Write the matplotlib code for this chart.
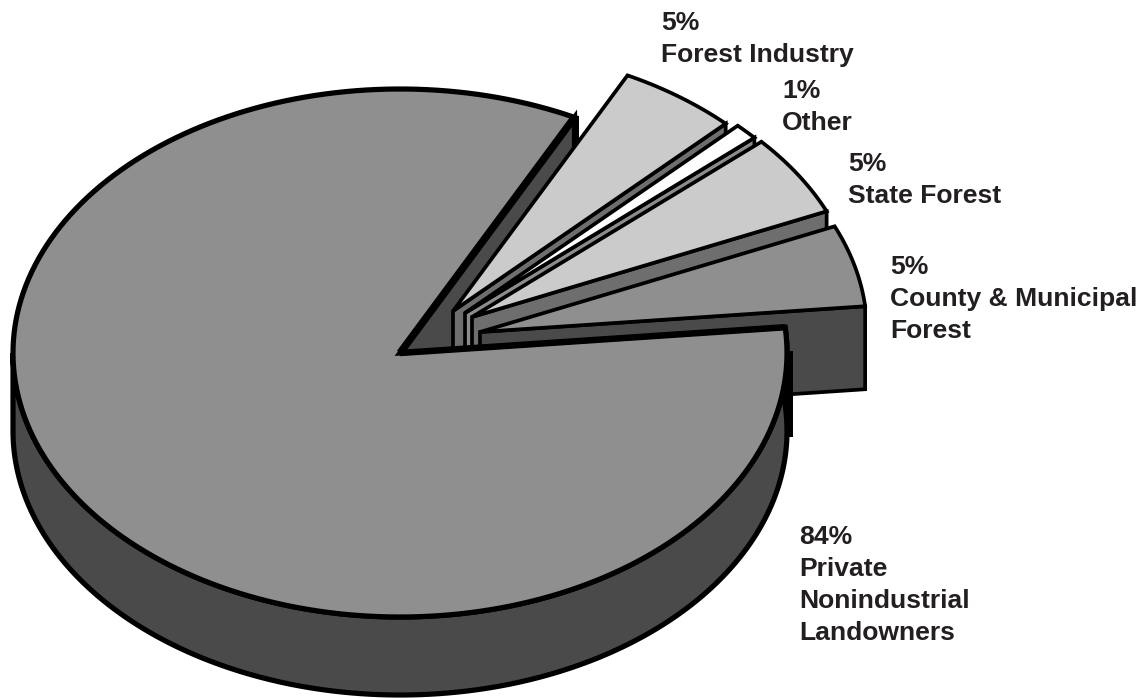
import numpy as np
import matplotlib
matplotlib.use('Agg')
import matplotlib.pyplot as plt
from matplotlib.patches import Polygon

# shares of forest ownership, going counter clockwise from the right side
names = ['County & Municipal\nForest', 'State Forest', 'Other', 'Forest Industry',
         'Private\nNonindustrial\nLandowners']
shares = [5, 5, 1, 5, 84]

# look of each slice
top_colors = ['#8f8f8f', '#cbcbcb', '#ffffff', '#cbcbcb', '#8f8f8f']
wall_colors = ['#4a4a4a', '#6e6e6e', '#8c8c8c', '#6e6e6e', '#4a4a4a']
explode = [(80, -21), (72, -36), (65, -40), (53, -42), (0, 0)]
edge_widths = [3.7, 3.7, 3.7, 3.7, 5.2]
label_pos = [(890, 255), (848, 152), (782, 79), (661, 11), (799, 525.5)]

# pie geometry in pixels
cx, cy = 400, 353
rx, ry = 387, 264
depth = 83
main_depth = 78
start_angle = 5.6


def arc(x0, y0, a0, a1):
    t = np.radians(np.linspace(a0, a1, 200))
    return np.column_stack([x0 + rx * np.cos(t), y0 - ry * np.sin(t)])


def add_poly(ax, pts, color, lw):
    ax.add_patch(Polygon(pts, closed=True, facecolor=color, edgecolor='black',
                         linewidth=lw * 0.72, joinstyle='miter'))


def add_wall(ax, x0, y0, angle, color, lw):
    # flat cut face of a slice
    end = arc(x0, y0, angle, angle)[0]
    pts = [(x0, y0), end, (end[0], end[1] + depth), (x0, y0 + depth)]
    add_poly(ax, pts, color, lw)


fig = plt.figure(figsize=(11.41, 6.98), dpi=100)
ax = fig.add_axes([0, 0, 1, 1])
ax.set_xlim(0, 1141)
ax.set_ylim(698, 0)
ax.axis('off')

# angles of the slices from the shares
edges = start_angle + np.cumsum([0] + shares) * 3.6

# the big slice's far wall goes behind all the pulled out ones
add_wall(ax, cx, cy, edges[4], wall_colors[4], edge_widths[4])

for i in [3, 2, 1, 0]:
    x0, y0 = cx + explode[i][0], cy + explode[i][1]
    add_wall(ax, x0, y0, edges[i], wall_colors[i], edge_widths[i])
    pts = np.vstack([[(x0, y0)], arc(x0, y0, edges[i], edges[i + 1])])
    add_poly(ax, pts, top_colors[i], edge_widths[i])

# big slice: round side first, then the top
front = arc(cx, cy, 180, edges[5])
side = np.vstack([front, (front + [0, main_depth])[::-1]])
add_poly(ax, side, wall_colors[4], edge_widths[4])
pts = np.vstack([[(cx, cy)], arc(cx, cy, edges[4], edges[5])])
add_poly(ax, pts, top_colors[4], edge_widths[4])

# the two straight cuts of the big slice are drawn heavier
for angle, width in [(edges[4], 7.5), (edges[5], 6.5)]:
    end = arc(cx, cy, angle, angle)[0]
    ax.plot([cx, end[0]], [cy, end[1]], color='black', lw=width * 0.72, solid_capstyle='butt')

# heavy black seams on the right and at the top of the big slice
ax.plot([790, 790], [351, 437], color='black', lw=4.3, solid_capstyle='butt')
ax.plot([576, 576], [116, 140], color='black', lw=4.3, solid_capstyle='butt')

for name, share, (x, y) in zip(names, shares, label_pos):
    ax.text(x, y, f'{share}%\n{name}', family='Liberation Sans', fontweight='bold',
            fontsize=19.05, color='#231f20', va='top', ha='left', linespacing=1.41)

fig.savefig('out.png', dpi=100)
